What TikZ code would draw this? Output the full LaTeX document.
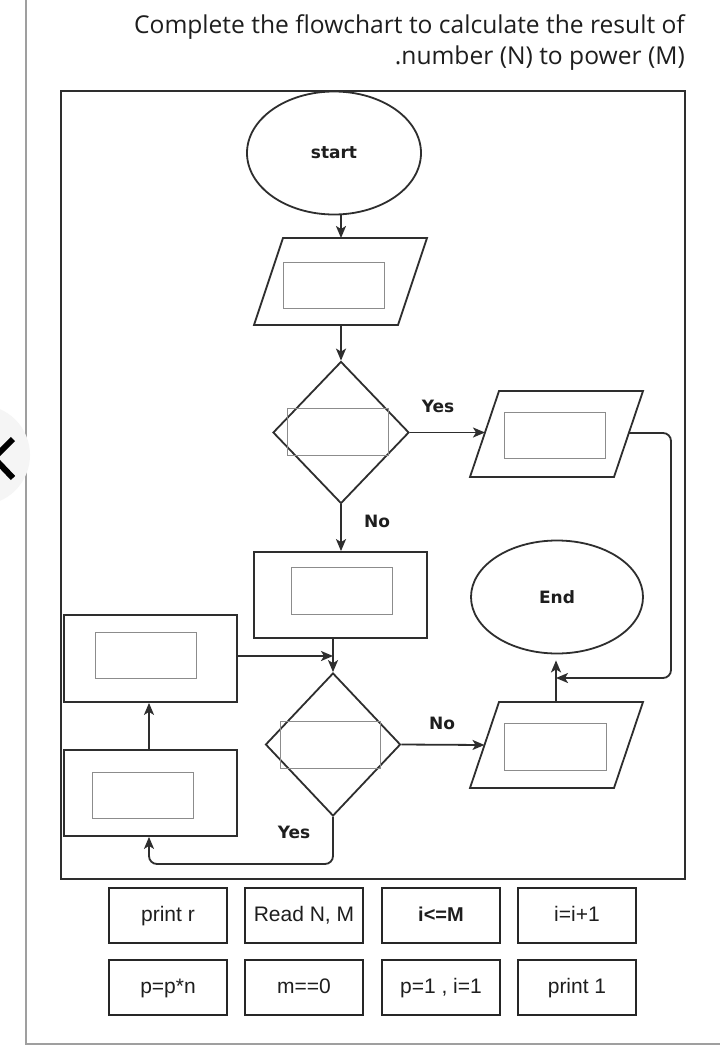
\documentclass[tikz,border=0pt]{standalone}
\usepackage{fontspec}
\setmainfont{DejaVu Sans}
\newfontfamily\titlefont{Open Sans}
\newfontfamily\boxfont{Liberation Sans}
\usetikzlibrary{shapes.geometric,arrows.meta}
\definecolor{ln}{HTML}{2E2E2E}
\definecolor{inn}{HTML}{8C8C8C}
\definecolor{txt}{HTML}{1E1E1E}
\begin{document}
\begin{tikzpicture}[x=1pt,y=-1pt,
  shp/.style={draw=ln, line width=1.8pt},
  innr/.style={draw=inn, line width=0.9pt, minimum width=101pt, minimum height=46pt, inner sep=0pt},
  arr/.style={draw=ln, line width=1.8pt, -{Stealth[length=12pt,width=10pt,inset=3pt]}},
  lbl/.style={font=\fontsize{17}{20}\selectfont\bfseries, text=txt},
  optbox/.style={draw=black!85, line width=1.4pt, minimum width=118pt, minimum height=55pt, inner sep=0pt, text height=15pt, text depth=4pt, font=\boxfont\fontsize{21}{25}\selectfont, text=txt},
  ttl/.style={anchor=base east, font=\titlefont\fontsize{24.6}{29}\selectfont, text=txt, inner sep=0pt}
]
\useasboundingbox (0,0) rectangle (720,1046);
\fill[white] (0,0) rectangle (720,1046);
% page edges
\draw[gray!75, line width=1.3pt] (26,0) -- (26,1044) -- (720,1044);
% side button
\fill[black!4] (-20,455) circle (50);
\draw[black, line width=6pt] (13,439) -- (-6,458) -- (13,478);
% title
\node[ttl] (t1) at (685,34) {Complete the flowchart to calculate the result of};
\node[ttl] (t2) at (685,65) {.number (N) to power (M)};
% frame
\draw[shp] (61,91) rectangle (685,879);
% start
\node[shp, ellipse, minimum width=174pt, minimum height=123pt, inner sep=0pt, lbl] (st) at (334,153) {start};
% input parallelogram
\coordinate (p1n) at (341,238);
\coordinate (p1s) at (341,325);
\draw[shp] (283,238) -- (427,238) -- (398,325) -- (254,325) -- cycle;
\node[innr] (p1i) at (333.5,285) {};
% decision 1
\node[shp, diamond, minimum width=136pt, minimum height=142pt, inner sep=0pt] (d1) at (341,432.5) {};
\node[innr, minimum width=101pt, minimum height=47pt] (d1i) at (337.5,431.5) {};
% output parallelogram (yes)
\draw[shp] (499,391) -- (643,391) -- (614,477) -- (470,477) -- cycle;
\coordinate (p2w) at (485,432.5);
\coordinate (p2e) at (629,433);
\node[innr] (p2i) at (554.5,435) {};
% process 1
\node[shp, rectangle, minimum width=173pt, minimum height=86pt, inner sep=0pt] (r1) at (340.5,595) {};
\node[innr, minimum height=47pt] (r1i) at (341.5,590.5) {};
% end
\node[shp, ellipse, minimum width=172pt, minimum height=113pt, inner sep=0pt, lbl] (en) at (557,597) {End};
% left boxes
\node[shp, rectangle, minimum width=173pt, minimum height=87pt, inner sep=0pt] (ra) at (150.5,658.5) {};
\node[innr] (rai) at (146,655) {};
\node[shp, rectangle, minimum width=173pt, minimum height=86pt, inner sep=0pt] (rb) at (150.5,793) {};
\node[innr] (rbi) at (143,795) {};
% decision 2
\node[shp, diamond, minimum width=135pt, minimum height=143pt, inner sep=0pt] (d2) at (333,744.5) {};
\node[innr, minimum width=100pt, minimum height=47pt] (d2i) at (330,744.5) {};
% output parallelogram (no)
\draw[shp] (499,702) -- (643,702) -- (614,788) -- (470,788) -- cycle;
\coordinate (p3w) at (484.5,745);
\coordinate (p3n) at (556,702);
\node[innr, minimum width=102pt, minimum height=47pt] (p3i) at (555,746.5) {};
% junction points
\coordinate (j1) at (333,656);
\coordinate (j2) at (556,678);
% connectors
\draw[arr] (st.south -| p1n) -- (p1n);
\draw[arr] (p1s) -- (d1.north);
\draw[arr] (d1.east) -- (p2w);
\draw[arr, rounded corners=8pt] (p2e) -- (671,433) -- (671,678) -- (j2);
\draw[arr] (d1.south) -- (r1.north -| d1.south);
\draw[arr] (r1.south -| d2.north) -- (d2.north);
\draw[arr] (ra.east |- j1) -- (j1);
\draw[arr] (d2.east) -- (p3w);
\draw[arr, shorten >=6pt] (p3n) -- (en.south -| p3n);
\draw[arr] (rb.north -| 149,0) -- (ra.south -| 149,0);
\draw[arr, rounded corners=8pt] (d2.south) -- (333,864) -- (149,864) -- (rb.south -| 149,0);
% branch labels
\node[lbl] (y1) at (438,406) {Yes};
\node[lbl] (n1) at (377,521) {No};
\node[lbl] (n2) at (442,723) {No};
\node[lbl] (y2) at (294,832) {Yes};
% option boxes
\node[optbox] (o1) at (168,915.5) {print r};
\node[optbox] (o2) at (304,915.5) {Read N, M};
\node[optbox, font=\boxfont\bfseries\fontsize{20}{24}\selectfont] (o3) at (441,915.5) {i<=M};
\node[optbox] (o4) at (577,915.5) {i=i+1};
\node[optbox] (o5) at (168,987.5) {p=p*n};
\node[optbox] (o6) at (304,987.5) {m==0};
\node[optbox] (o7) at (441,987.5) {p=1 , i=1};
\node[optbox] (o8) at (577,987.5) {print 1};
\end{tikzpicture}
\end{document}
